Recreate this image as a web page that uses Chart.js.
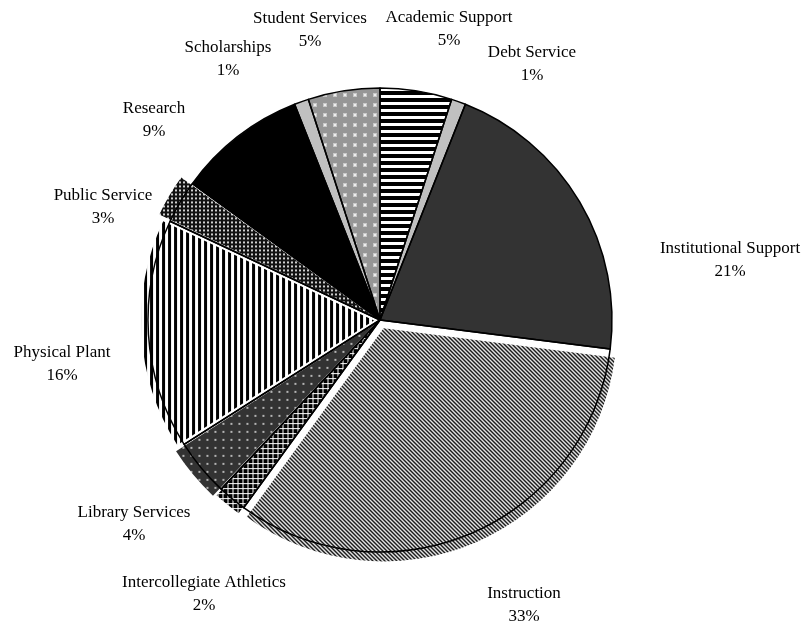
<!DOCTYPE html>
<html>
<head>
<meta charset="utf-8">
<script src="https://cdn.jsdelivr.net/npm/chart.js@4.4.0/dist/chart.umd.min.js"></script>
<style>
  html,body{margin:0;padding:0;background:#fff;}
  #wrap{width:809px;height:626px;}
</style>
</head>
<body>
<div id="wrap"><canvas id="pieChart" width="809" height="626"></canvas></div>
<script>
const categories=['Academic Support','Debt Service','Institutional Support','Instruction','Intercollegiate Athletics','Library Services','Physical Plant','Public Service','Research','Scholarships','Student Services'];
const shares=[5,1,21,33,2,4,16,3,9,1,5];

// layout only: label block centre relative to the pie centre
const labelOffsets=[[69,-291],[152,-256],[350,-60],[144,285],[-176,274],[-246,204],[-318,44],[-277,-113],[-226,-200],[-152,-261],[-70,-290]];
// layout only: how far each fill sits out of its outline (Chart.js offset units)
const fillOffsets=[0,0,0,36,16,24,24,28,0,0,0];

const canvas=document.getElementById('pieChart');
const ctx=canvas.getContext('2d');

function tile(w,h,bg,draw){
  const c=document.createElement('canvas');
  c.width=w;c.height=h;
  const g=c.getContext('2d');
  g.fillStyle=bg;g.fillRect(0,0,w,h);
  draw(g);
  return ctx.createPattern(c,'repeat');
}

const fills=[
  tile(7,7,'#fff',g=>{g.fillStyle='#000';g.fillRect(0,0,7,4);}),           // horizontal stripes
  '#c0c0c0',
  '#333333',
  tile(4,4,'#fff',g=>{g.fillStyle='#000';for(let i=0;i<4;i++){g.fillRect(i,i,1,1);g.fillRect((i+1)%4,i,1,1);}}), // diagonal
  tile(5,5,'#000',g=>{g.fillStyle='#fff';g.fillRect(0,0,5,1);g.fillRect(0,0,1,5);}),   // white grid on black
  tile(8,8,'#333',g=>{g.fillStyle='#b4b4b4';g.fillRect(3,3,2,2);}),                    // dots on dark gray
  tile(6,6,'#fff',g=>{g.fillStyle='#000';g.fillRect(0,0,3,6);}),                       // vertical stripes
  tile(4,4,'#111',g=>{g.fillStyle='#cfcfcf';g.fillRect(1,1,2,2);}),                    // fine dots on black
  '#000000',
  '#c0c0c0',
  tile(10,10,'#969696',g=>{g.fillStyle='#c8c8c8';g.fillRect(3,3,4,4);g.fillStyle='#eeeeee';g.fillRect(4,4,2,2);}) // white dots on gray
];

const outlinesAndLabels={
  id:'outlinesAndLabels',
  afterDatasetsDraw(chart){
    const c=chart.ctx;
    const arcs=chart.getDatasetMeta(0).data;
    const total=shares.reduce((a,b)=>a+b,0);
    c.save();
    c.strokeStyle='#000';c.lineWidth=1.5;c.lineJoin='round';
    arcs.forEach(a=>{
      const p=a.getProps(['x','y','startAngle','endAngle','outerRadius'],true);
      c.beginPath();
      c.moveTo(p.x,p.y);
      c.arc(p.x,p.y,p.outerRadius,p.startAngle,p.endAngle);
      c.closePath();
      c.stroke();
    });
    c.font='17px "Liberation Serif","Times New Roman",serif';
    c.fillStyle='#000';c.textAlign='center';c.textBaseline='middle';
    arcs.forEach((a,i)=>{
      const [dx,dy]=labelOffsets[i];
      const x=a.x+dx,y=a.y+dy;
      c.fillText(categories[i],x,y-11.5);
      c.fillText(Math.round(shares[i]/total*100)+'%',x,y+11.5);
    });
    c.restore();
  }
};

new Chart(ctx,{
  type:'pie',
  data:{
    labels:categories,
    datasets:[{
      data:shares,
      backgroundColor:fills,
      borderWidth:0,
      offset:fillOffsets,
      radius:232
    }]
  },
  options:{
    responsive:false,
    animation:false,
    events:[],
    layout:{padding:{left:148,right:197,top:88,bottom:74}},
    plugins:{legend:{display:false},tooltip:{enabled:false}}
  },
  plugins:[outlinesAndLabels]
});
</script>
</body>
</html>
